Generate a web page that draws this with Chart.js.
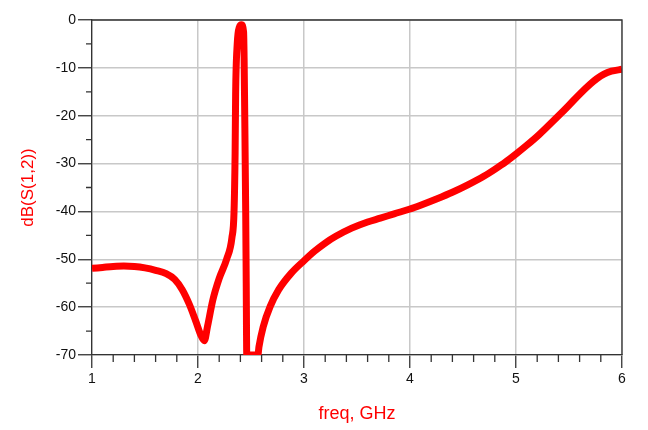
<!DOCTYPE html>
<html>
<head>
<meta charset="utf-8">
<script src="https://cdn.jsdelivr.net/npm/chart.js@4/dist/chart.umd.min.js"></script>
<style>
  html, body { margin: 0; padding: 0; background: #fff; }
  .c-wrap { position: relative; width: 648px; height: 430px; }
</style>
</head>
<body>
<div class="c-wrap"><canvas id="myChart"></canvas></div>
<script>
// S12 response (freq in GHz, value in dB)
const freqGHz = [
  1.00, 1.10, 1.20, 1.30, 1.40, 1.50, 1.60, 1.70, 1.78, 1.85,
  1.92, 1.98, 2.03, 2.06, 2.09, 2.14, 2.20, 2.27, 2.32, 2.34,
  2.35, 2.355, 2.37, 2.39, 2.41, 2.43, 2.435, 2.44, 2.45, 2.455,
  2.46, 2.50, 2.565, 2.575, 2.615, 2.68, 2.76, 2.88, 3.00, 3.10,
  3.20, 3.30, 3.45, 3.60, 3.72, 3.85, 4.00, 4.10,
  4.25, 4.40, 4.55, 4.70, 4.80, 4.90, 5.00, 5.10, 5.20, 5.30,
  5.42, 5.50, 5.60, 5.70, 5.76, 5.83, 5.90, 6.00
];
const s12dB = [
  -51.9, -51.7, -51.5, -51.4, -51.5, -51.8, -52.3, -53.0, -54.2, -56.3,
  -59.5, -63.0, -66.0, -67.0, -64.0, -58.5, -54.0, -50.0, -45.5, -40.0,
  -28.0, -15.5, -5.0, -1.5, -1.0, -2.5, -8.0, -18.0, -40.0, -55.0,
  -70.0, -70.0, -70.0, -68.3, -64.1, -59.9, -56.4, -52.9, -50.3, -48.3,
  -46.6, -45.2, -43.5, -42.2, -41.4, -40.5, -39.5, -38.7,
  -37.4, -36.0, -34.4, -32.6, -31.2, -29.7, -28.0, -26.2, -24.3, -22.2,
  -19.6, -17.8, -15.5, -13.4, -12.3, -11.3, -10.7, -10.3
];
const xTicks = [1, 2, 3, 4, 5, 6];
const yTicks = [0, -10, -20, -30, -40, -50, -60, -70];

var myChart = '';

// minor ticks and the top/right frame
const frame = {
  id: 'frame',
  afterDraw: function (chart) {
    const ctx = chart.ctx;
    const area = chart.chartArea;
    const xs = chart.scales.x;
    const ys = chart.scales.y;
    ctx.save();
    ctx.strokeStyle = '#333';
    ctx.lineWidth = 1.3;
    ctx.beginPath();
    for (let v = 1.2; v < 6; v += 0.2) {
      if (Math.abs(v - Math.round(v)) < 0.01) continue;
      const px = xs.getPixelForValue(v);
      ctx.moveTo(px, area.bottom);
      ctx.lineTo(px, area.bottom + 7);
    }
    for (let v = -5; v > -70; v -= 10) {
      const py = ys.getPixelForValue(v);
      ctx.moveTo(area.left, py);
      ctx.lineTo(area.left - 6, py);
    }
    ctx.moveTo(area.left, area.top);
    ctx.lineTo(area.right, area.top);
    ctx.lineTo(area.right, area.bottom);
    ctx.stroke();
    ctx.restore();
  },
};

const init = function () {
  const ctx = document.getElementById('myChart').getContext('2d');
  const points = freqGHz.map((f, i) => ({ x: f, y: s12dB[i] }));
  myChart = new Chart(ctx, {
    type: 'line',
    data: {
      datasets: [
        {
          label: 'dB(S(1,2))',
          data: points,
          borderColor: '#ff0000',
          borderWidth: 7,
          pointRadius: 0,
          cubicInterpolationMode: 'monotone',
          clip: 0,
        },
      ],
    },
    options: {
      responsive: true,
      maintainAspectRatio: false,
      animation: false,
      layout: { padding: { left: 0, right: 26, top: 20, bottom: 0 } },
      plugins: { legend: { display: false }, tooltip: { enabled: false } },
      scales: {
        x: {
          type: 'linear',
          min: 1,
          max: 6,
          afterFit: function (scale) { scale.height = 75; },
          afterBuildTicks: function (scale) { scale.ticks = xTicks.map(v => ({ value: v })); },
          ticks: { color: '#111', padding: 3, font: { family: 'Liberation Sans', size: 14 }, maxRotation: 0 },
          grid: { color: '#c8c8c8', lineWidth: 1.5, tickColor: '#333', tickLength: 13, tickWidth: 1.3 },
          border: { color: '#333', width: 1.3 },
          title: {
            display: true,
            text: 'freq, GHz',
            color: '#ff0000',
            font: { family: 'Liberation Sans', size: 18 },
            padding: { top: 0, bottom: 5 },
          },
        },
        y: {
          type: 'linear',
          min: -70,
          max: 0,
          afterFit: function (scale) { scale.width = 92; },
          afterBuildTicks: function (scale) { scale.ticks = yTicks.map(v => ({ value: v })); },
          ticks: { color: '#111', padding: 2, font: { family: 'Liberation Sans', size: 14 } },
          grid: { color: '#c8c8c8', lineWidth: 1.5, tickColor: '#333', tickLength: 14, tickWidth: 1.3 },
          border: { color: '#333', width: 1.3 },
          title: {
            display: true,
            text: 'dB(S(1,2))',
            color: '#ff0000',
            font: { family: 'Liberation Sans', size: 17 },
            padding: { top: 18, bottom: 0 },
          },
        },
      },
    },
    plugins: [frame],
  });
};

document.addEventListener('DOMContentLoaded', init);
</script>
</body>
</html>
